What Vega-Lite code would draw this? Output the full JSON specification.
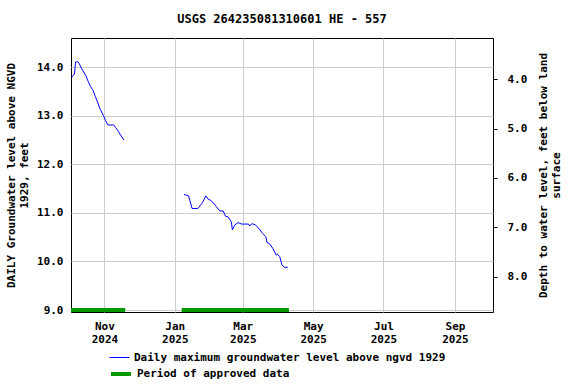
{
  "$schema": "https://vega.github.io/schema/vega-lite/v6.json",
  "width": 422,
  "height": 274,
  "autosize": {"type": "none"},
  "padding": {"left": 71, "top": 38, "right": 83, "bottom": 72},
  "background": "white",
  "title": {"text": "USGS 264235081310601 HE - 557", "font": "DejaVu Sans Mono", "fontSize": 12, "fontWeight": "bold", "color": "black", "offset": 12, "anchor": "middle", "frame": "group"},
  "config": {
    "view": {"stroke": "black", "strokeWidth": 1},
    "axis": {"labelFont": "DejaVu Sans Mono", "labelFontWeight": "bold", "labelFontSize": 11, "labelColor": "black", "titleFont": "DejaVu Sans Mono", "titleFontWeight": "bold", "titleFontSize": 11, "titleColor": "black", "gridColor": "#cccccc", "gridWidth": 1, "domain": false, "tickColor": "black"},
    "legend": {"labelFont": "DejaVu Sans Mono", "labelFontWeight": "bold", "labelFontSize": 11, "labelColor": "black", "labelLimit": 0}
  },
  "datasets": {
    "level": [
      {"date": "2024-10-03", "seg": 1, "level": 13.80},
      {"date": "2024-10-04", "seg": 1, "level": 13.80},
      {"date": "2024-10-05", "seg": 1, "level": 13.83},
      {"date": "2024-10-06", "seg": 1, "level": 13.86},
      {"date": "2024-10-07", "seg": 1, "level": 14.11},
      {"date": "2024-10-08", "seg": 1, "level": 14.11},
      {"date": "2024-10-09", "seg": 1, "level": 14.11},
      {"date": "2024-10-10", "seg": 1, "level": 14.08},
      {"date": "2024-10-11", "seg": 1, "level": 14.03},
      {"date": "2024-10-12", "seg": 1, "level": 13.98},
      {"date": "2024-10-14", "seg": 1, "level": 13.90},
      {"date": "2024-10-16", "seg": 1, "level": 13.82},
      {"date": "2024-10-18", "seg": 1, "level": 13.70},
      {"date": "2024-10-20", "seg": 1, "level": 13.60},
      {"date": "2024-10-21", "seg": 1, "level": 13.56},
      {"date": "2024-10-22", "seg": 1, "level": 13.53},
      {"date": "2024-10-24", "seg": 1, "level": 13.40},
      {"date": "2024-10-26", "seg": 1, "level": 13.28},
      {"date": "2024-10-28", "seg": 1, "level": 13.15},
      {"date": "2024-10-31", "seg": 1, "level": 13.01},
      {"date": "2024-11-02", "seg": 1, "level": 12.90},
      {"date": "2024-11-04", "seg": 1, "level": 12.81},
      {"date": "2024-11-09", "seg": 1, "level": 12.81},
      {"date": "2024-11-11", "seg": 1, "level": 12.75},
      {"date": "2024-11-13", "seg": 1, "level": 12.68},
      {"date": "2024-11-15", "seg": 1, "level": 12.60},
      {"date": "2024-11-17", "seg": 1, "level": 12.53},
      {"date": "2024-11-18", "seg": 1, "level": 12.50},
      {"date": "2025-01-09", "seg": 2, "level": 11.38},
      {"date": "2025-01-13", "seg": 2, "level": 11.35},
      {"date": "2025-01-16", "seg": 2, "level": 11.09},
      {"date": "2025-01-21", "seg": 2, "level": 11.09},
      {"date": "2025-01-24", "seg": 2, "level": 11.18},
      {"date": "2025-01-25", "seg": 2, "level": 11.21},
      {"date": "2025-01-28", "seg": 2, "level": 11.35},
      {"date": "2025-01-30", "seg": 2, "level": 11.28},
      {"date": "2025-02-01", "seg": 2, "level": 11.26},
      {"date": "2025-02-03", "seg": 2, "level": 11.22},
      {"date": "2025-02-06", "seg": 2, "level": 11.13},
      {"date": "2025-02-09", "seg": 2, "level": 11.04},
      {"date": "2025-02-12", "seg": 2, "level": 11.04},
      {"date": "2025-02-14", "seg": 2, "level": 10.93},
      {"date": "2025-02-16", "seg": 2, "level": 10.92},
      {"date": "2025-02-19", "seg": 2, "level": 10.82},
      {"date": "2025-02-20", "seg": 2, "level": 10.65},
      {"date": "2025-02-22", "seg": 2, "level": 10.75},
      {"date": "2025-02-25", "seg": 2, "level": 10.80},
      {"date": "2025-02-28", "seg": 2, "level": 10.77},
      {"date": "2025-03-06", "seg": 2, "level": 10.77},
      {"date": "2025-03-07", "seg": 2, "level": 10.73},
      {"date": "2025-03-09", "seg": 2, "level": 10.78},
      {"date": "2025-03-12", "seg": 2, "level": 10.75},
      {"date": "2025-03-15", "seg": 2, "level": 10.68},
      {"date": "2025-03-18", "seg": 2, "level": 10.58},
      {"date": "2025-03-21", "seg": 2, "level": 10.51},
      {"date": "2025-03-22", "seg": 2, "level": 10.39},
      {"date": "2025-03-24", "seg": 2, "level": 10.37},
      {"date": "2025-03-27", "seg": 2, "level": 10.27},
      {"date": "2025-03-30", "seg": 2, "level": 10.13},
      {"date": "2025-03-31", "seg": 2, "level": 10.15},
      {"date": "2025-04-02", "seg": 2, "level": 10.10},
      {"date": "2025-04-04", "seg": 2, "level": 9.93},
      {"date": "2025-04-06", "seg": 2, "level": 9.88},
      {"date": "2025-04-09", "seg": 2, "level": 9.88}
    ],
    "approved": [
      {"start": "2024-10-03", "end": "2024-11-19", "level": 9.0},
      {"start": "2025-01-07", "end": "2025-04-10", "level": 9.0}
    ]
  },
  "layer": [
    {
      "layer": [
        {
          "data": {"name": "approved"},
          "mark": {"type": "rule", "strokeWidth": 4, "strokeCap": "butt"},
          "encoding": {
            "x": {"field": "start", "type": "temporal",
              "scale": {"type": "utc", "domain": [{"year": 2024, "month": 10, "date": 3, "utc": true}, {"year": 2025, "month": 10, "date": 4, "utc": true}]},
              "axis": {"title": null, "values": [
                {"year": 2024, "month": 11, "date": 1, "utc": true},
                {"year": 2025, "month": 1, "date": 1, "utc": true},
                {"year": 2025, "month": 3, "date": 1, "utc": true},
                {"year": 2025, "month": 5, "date": 1, "utc": true},
                {"year": 2025, "month": 7, "date": 1, "utc": true},
                {"year": 2025, "month": 9, "date": 1, "utc": true}],
                "labelExpr": "[utcFormat(datum.value, '%b'), utcFormat(datum.value, '%Y')]",
                "ticks": false, "labelPadding": 8, "grid": true}},
            "x2": {"field": "end"},
            "y": {"field": "level", "type": "quantitative",
              "scale": {"domain": [8.96, 14.6], "nice": false, "zero": false},
              "axis": {"title": ["DAILY Groundwater level above NGVD", "1929, feet"], "values": [9, 10, 11, 12, 13, 14], "format": ".1f", "ticks": false, "labelPadding": 8, "titlePadding": 7, "grid": true}},
            "color": {"datum": "Period of approved data", "type": "nominal",
              "scale": {"range": ["#009900"]},
              "legend": {"title": null, "orient": "none", "legendX": 38, "legendY": 324, "symbolType": "stroke", "symbolStrokeWidth": 4, "symbolSize": 400, "labelOffset": 4}}
          }
        },
        {
          "data": {"name": "level"},
          "mark": {"type": "line", "strokeWidth": 1, "interpolate": "linear"},
          "encoding": {
            "x": {"field": "date", "type": "temporal"},
            "y": {"field": "level", "type": "quantitative"},
            "detail": {"field": "seg", "type": "nominal"},
            "stroke": {"datum": "Daily maximum groundwater level above ngvd 1929", "type": "nominal",
              "scale": {"range": ["#0000ff"]},
              "legend": {"title": null, "orient": "none", "legendX": 38, "legendY": 309, "symbolType": "stroke", "symbolStrokeWidth": 1, "symbolSize": 400, "labelOffset": 4}}
          }
        }
      ]
    },
    {
      "data": {"name": "level"},
      "mark": {"type": "point", "opacity": 0},
      "encoding": {
        "x": {"field": "date", "type": "temporal"},
        "y": {"field": "level", "type": "quantitative",
          "scale": {"domain": [8.71, 3.17], "nice": false, "zero": false},
          "axis": {"orient": "right", "title": ["Depth to water level, feet below land", "surface"], "titleAngle": -90, "values": [4, 5, 6, 7, 8], "format": ".1f", "tickSize": 4, "labelPadding": 10, "titlePadding": 9, "grid": false}}
      }
    }
  ],
  "resolve": {"scale": {"y": "independent", "color": "independent"}}
}
